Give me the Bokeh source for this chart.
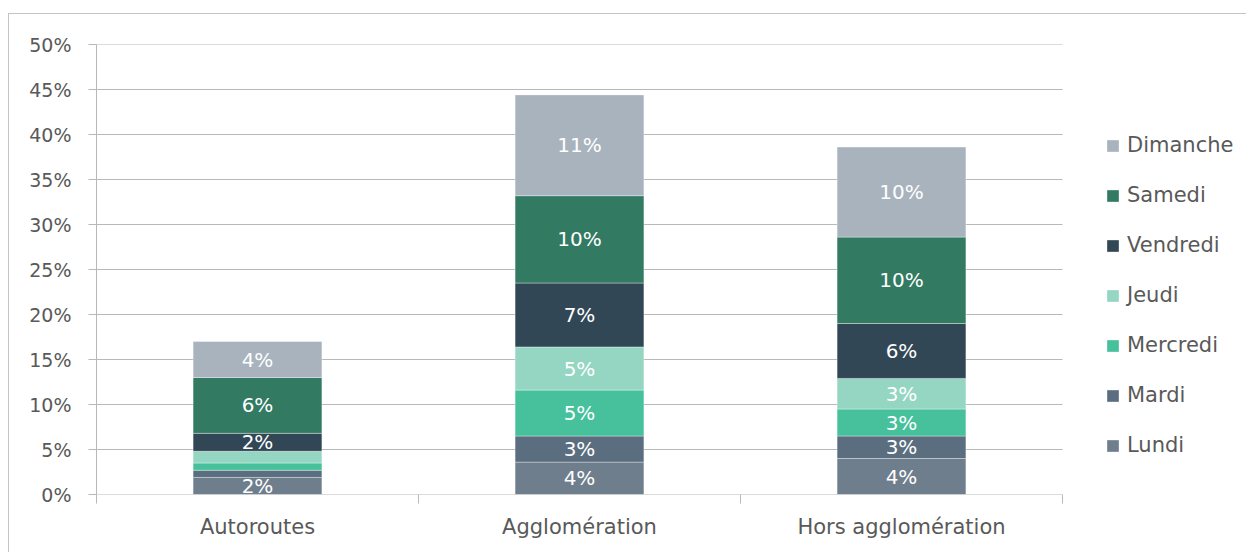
from bokeh.plotting import figure
from bokeh.models import (ColumnDataSource, Range1d, FixedTicker, Legend, LegendItem)
from bokeh.embed import file_html
from bokeh.resources import INLINE
from bokeh.core.properties import value

categories = ["Autoroutes", "Agglomération", "Hors agglomération"]
days = ["Lundi", "Mardi", "Mercredi", "Jeudi", "Vendredi", "Samedi", "Dimanche"]
lundi = [1.9, 3.6, 4.0]
mardi = [0.8, 2.9, 2.5]
mercredi = [0.8, 5.1, 3.0]
jeudi = [1.3, 4.8, 3.4]
vendredi = [2.0, 7.1, 6.1]
samedi = [6.2, 9.7, 9.6]
dimanche = [4.0, 11.2, 10.0]
day_colors = ["#6F7E8D", "#5B6E7F", "#46C19B", "#95D6C3", "#324756", "#327A62", "#A9B3BE"]
y_ticks = [0, 5, 10, 15, 20, 25, 30, 35, 40, 45, 50]

FONT = "DejaVu Sans"
GRID = "#b8b8b8"
TXT = "#595959"

series = [lundi, mardi, mercredi, jeudi, vendredi, samedi, dimanche]
ncat = len(categories)
centers = [i + 0.5 for i in range(ncat)]
bounds = [float(i) for i in range(ncat + 1)]
data = {"x": centers}
for d, s in zip(days, series):
    data[d] = s
source = ColumnDataSource(data)

# frame spans to the right edge; the category area takes 966 of its 1151 px
p = figure(x_range=Range1d(0, ncat * 1151 / 966), y_range=Range1d(0, 50),
           width=1238, height=539, output_backend="svg", toolbar_location=None,
           min_border_left=87, min_border_top=30,
           min_border_right=0, min_border_bottom=59, margin=(13, 0, 0, 8))
p.styles = {"border-left": "1px solid #c4c4c4", "border-top": "1px solid #c4c4c4"}
p.outline_line_color = None
p.background_fill_color = "white"
p.border_fill_color = "white"

# horizontal gridlines over the category area only
p.segment(x0=0, x1=ncat, y0=y_ticks, y1=y_ticks, line_color=GRID, line_width=1)

renderers = p.vbar_stack(days, x="x", width=0.4, color=day_colors, source=source,
                         line_color="white", line_alpha=0.35, line_width=1)

# data labels
lx, ly, lt = [], [], []
for i, c in enumerate(centers):
    bottom = 0.0
    for s in series:
        v = s[i]
        if v >= 1.5:
            lx.append(c)
            ly.append(bottom + v / 2)
            lt.append("%d%%" % int(v + 0.5))
        bottom += v
p.text(x="x", y="y", text="t", source=ColumnDataSource(dict(x=lx, y=ly, t=lt)),
       text_color="white", text_align="center", text_baseline="middle",
       text_font=value(FONT), text_font_size="20px")

# y axis
ya = p.yaxis[0]
ya.ticker = FixedTicker(ticks=y_ticks)
ya.major_label_overrides = {t: "%d%%" % t for t in y_ticks}
ya.major_tick_out = 8
ya.major_tick_in = 0
ya.minor_tick_out = 0
ya.minor_tick_in = 0
ya.axis_line_color = GRID
ya.major_tick_line_color = GRID
ya.major_label_standoff = 17
ya.major_label_text_font = FONT
ya.major_label_text_font_size = "19px"
ya.major_label_text_color = TXT

p.grid.grid_line_color = None

# x axis with ticks at category boundaries
xa = p.xaxis[0]
xa.ticker = FixedTicker(ticks=centers, minor_ticks=bounds)
xa.major_label_overrides = {c: n for c, n in zip(centers, categories)}
xa.major_tick_out = 0
xa.major_tick_in = 0
xa.minor_tick_out = 9
xa.minor_tick_in = 0
xa.axis_line_color = None
xa.minor_tick_line_color = GRID
xa.major_label_standoff = 11
xa.major_label_text_font = FONT
xa.major_label_text_font_size = "21px"
xa.major_label_text_color = TXT

items = [LegendItem(label=d, renderers=[r]) for d, r in reversed(list(zip(days, renderers)))]
legend = Legend(items=items, location=(1009, 37), orientation="vertical",
                glyph_width=15, glyph_height=15, label_height=21, spacing=26,
                label_standoff=7, padding=0, margin=0, border_line_color=None,
                background_fill_alpha=0, label_text_font=FONT,
                label_text_font_size="21px", label_text_color=TXT)
p.add_layout(legend)

open("out.html", "w").write(file_html(p, INLINE))
